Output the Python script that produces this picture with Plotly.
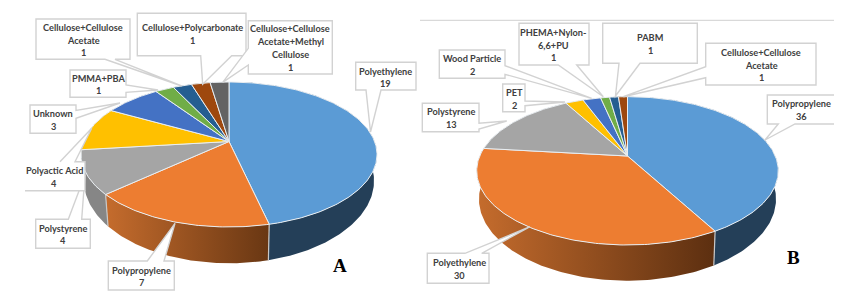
import math
import plotly.graph_objects as go

# ---- data ----
labels_a = ["Polyethylene", "Polypropylene", "Polystyrene", "Polyactic Acid", "Unknown", "PMMA+PBA",
            "Cellulose+Cellulose Acetate", "Cellulose+Polycarbonate", "Cellulose+Cellulose Acetate+Methyl Cellulose"]
values_a = [19, 7, 4, 4, 3, 1, 1, 1, 1]
labels_b = ["Polypropylene", "Polyethylene", "Polystyrene", "PET", "Wood Particle", "PHEMA+Nylon-6,6+PU",
            "PABM", "Cellulose+Cellulose Acetate"]
values_b = [36, 30, 13, 2, 2, 1, 1, 1]

# ---- style ----
top_colors = ["#5B9BD5", "#ED7D31", "#A5A5A5", "#FFC000", "#4472C4", "#70AD47", "#255E91", "#9E480E", "#636363"]
b_colors = top_colors[:7] + ["#9E480E"]
side_colors = ["#243F58", None, "#868686", "#997300", "#2A4476", "#43682B", "#163855", "#5F2B08", "#3B3B3B"]
GRAD_A = ("#C56C2D", "#693713")
GRAD_B = ("#C56C2D", "#5C2F10")
TEXT = "#404040"
EDGE = "#D2D2D2"
LINE_GAP = 12.7

fig = go.Figure()


def pie3d(values, colors, ax, ay, cx, by_top, by_bot, rx, depth_y, sx, sy, grad):
    a = (by_bot / by_top - 1) / (by_bot / by_top + 1)
    B = by_top * (1 + a)
    C = rx * math.sqrt(1 - a * a)

    def pt(t):
        u, v = math.sin(t), math.cos(t)
        d = 1 + a * v
        return ax + C * u / d, ay - B * v / d

    def pb(t):
        x, y = pt(t)
        return ax + sx * (x - ax), depth_y + sy * (y - ay)

    total = sum(values)
    cum, arcs = 0, []
    for val in values:
        t0 = cum / total * 2 * math.pi
        cum += val
        t1 = cum / total * 2 * math.pi
        n = max(3, int((t1 - t0) * 60))
        arcs.append([t0 + (t1 - t0) * k / n for k in range(n + 1)])

    # sides
    for i, ts in enumerate(arcs):
        top = [pt(t) for t in ts]
        bot = [pb(t) for t in reversed(ts)]
        poly = top + bot + [top[0]]
        kw = {}
        if side_colors[i] is None:
            kw["fillgradient"] = dict(type="horizontal", start=min(p[0] for p in poly), stop=max(p[0] for p in poly),
                                      colorscale=[[0, grad[0]], [1, grad[1]]])
        else:
            kw["fillcolor"] = side_colors[i]
        fig.add_trace(go.Scatter(x=[p[0] for p in poly], y=[p[1] for p in poly], mode="lines", fill="toself",
                                 line=dict(width=0), hoverinfo="skip", showlegend=False, **kw))
    # side separators
    for ts in arcs:
        t = ts[-1]
        if math.cos(t) < -0.3:
            p, q = pt(t), pb(t)
            fig.add_trace(go.Scatter(x=[p[0], q[0]], y=[p[1], q[1]], mode="lines",
                                     line=dict(color="#C8C8C8", width=1.2), hoverinfo="skip", showlegend=False))
    # tops
    for i, ts in enumerate(arcs):
        rim = [pt(t) for t in ts]
        poly = [(ax, ay)] + rim + [(ax, ay)]
        fig.add_trace(go.Scatter(x=[p[0] for p in poly], y=[p[1] for p in poly], mode="lines", fill="toself",
                                 fillcolor=colors[i], line=dict(color="#E9EEF2", width=1),
                                 hoverinfo="skip", showlegend=False))


pie3d(values_a, top_colors, 229, 141.5, 229, 59.5, 85.5, 148, 166, 0.98, 1.138, GRAD_A)
pie3d(values_b, b_colors, 627.5, 156, 627.5, 59.3, 89, 150.8, 182.8, 0.985, 1.1, GRAD_B)

# callouts: outline path, text lines, text centre
callouts = [
    ("M355.7,62.3L416,62.3L416,90L381,90L370.5,132L366,90L355.7,90Z", "Polyethylene<br>19", 385.7, 77.5),
    ("M108.3,261L147.3,261L175,223.3L164,261L174.3,261L174.3,290L108.3,290Z", "Polypropylene<br>7", 141.5, 276.5),
    ("M35.7,219.3L68.3,219.3L85,175L81.7,219.3L90.3,219.3L90.3,248.3L35.7,248.3Z", "Polystyrene<br>4", 63, 234.5),
    ("M25,190.7L85,190.7L85,161.7L75,161.7L91.7,128.3L60,161.7", "Polyactic Acid<br>4", 54, 177),
    ("M30,105L76,105L76,110.5L120,103L76,118.3L76,133.3L30,133.3Z", "Unknown<br>3", 53, 120),
    ("M70,70L126,70L126,85L158,90L126,92.3L126,97.3L70,97.3Z", "PMMA+PBA<br>1", 98, 84.5),
    ("M36,19L130,19L130,59.3L115,59.3L181.7,86L105,59.3L36,59.3Z", "Cellulose+Cellulose<br>Acetate<br>1", 83, 40),
    ("M137.3,13.3L246,13.3L246,55.7L231.7,55.7L202.7,84.3L200.7,55.7L137.3,55.7Z", "Cellulose+Polycarbonate<br>1", 192, 34),
    ("M248.3,20.7L332.3,20.7L332.3,74L248.3,74L248.3,65L222.7,82.3L248.3,48.3Z",
     "Cellulose+Cellulose<br>Acetate+Methyl<br>Cellulose<br>1", 290, 48),
    ("M834,95L767.3,95L767.3,124L778.3,124L765,140L795,124L834,124", "Polypropylene<br>36", 801, 110),
    ("M705.7,43.3L816,43.3L816,85L705.7,85L705.7,77.7L623.3,96.7L705.7,66.7Z", "Cellulose+Cellulose<br>Acetate<br>1", 761, 65),
    ("M602.7,23.3L697.3,23.3L697.3,63.3L640,63.3L615.5,96L619,63.3L602.7,63.3Z", "PABM<br>1", 650, 44),
    ("M519,23.3L589,23.3L589,65L576.7,65L603.3,96.7L558.3,65L519,65Z", "PHEMA+Nylon-<br>6,6+PU<br>1", 553, 45),
    ("M439.3,50L505,50L505,65.7L591.7,98.3L505,74.3L505,78.3L439.3,78.3Z", "Wood Particle<br>2", 472, 65),
    ("M502.7,84L525,84L525,101L565,102L525,105.7L525,111.7L502.7,111.7Z", "PET<br>2", 514, 99),
    ("M422.3,103.3L479,103.3L479,123.3L506.7,121L479,129L479,131.7L422.3,131.7Z", "Polystyrene<br>13", 451, 118),
    ("M427.3,253.3L465,253.3L530,226.7L481.7,253.3L489,253.3L489,283.3L427.3,283.3Z", "Polyethylene<br>30", 459, 269),
]
shapes = [dict(type="line", x0=420, x1=834, y0=20.3, y1=20.3, xref="x", yref="y",
               line=dict(color="#D9D9D9", width=1.2))]
annotations = []
for path, text, tx, ty in callouts:
    shapes.append(dict(type="path", path=path, xref="x", yref="y", fillcolor="white",
                       line=dict(color=EDGE, width=1.4)))
    rows = text.split("<br>")
    for r, row in enumerate(rows):
        annotations.append(dict(x=tx, y=ty + (r - (len(rows) - 1) / 2) * LINE_GAP, xref="x", yref="y", text=row,
                                showarrow=False, align="center",
                                font=dict(family="Lato", size=9.2, color=TEXT, weight="bold")))
for letter, lx, ly in [("A", 340, 265), ("B", 793, 257)]:
    annotations.append(dict(x=lx, y=ly, xref="x", yref="y", text=letter, showarrow=False,
                            font=dict(family="Liberation Serif", size=19, color="black", weight="bold")))

fig.update_layout(width=863, height=305, margin=dict(l=0, r=0, t=0, b=0), paper_bgcolor="white",
                  plot_bgcolor="white", showlegend=False, shapes=shapes, annotations=annotations,
                  xaxis=dict(range=[0, 863], visible=False, fixedrange=True),
                  yaxis=dict(range=[305, 0], visible=False, fixedrange=True))
fig.write_html("out.html", config={"displayModeBar": False},
               post_script="document.body.style.margin='0';")
